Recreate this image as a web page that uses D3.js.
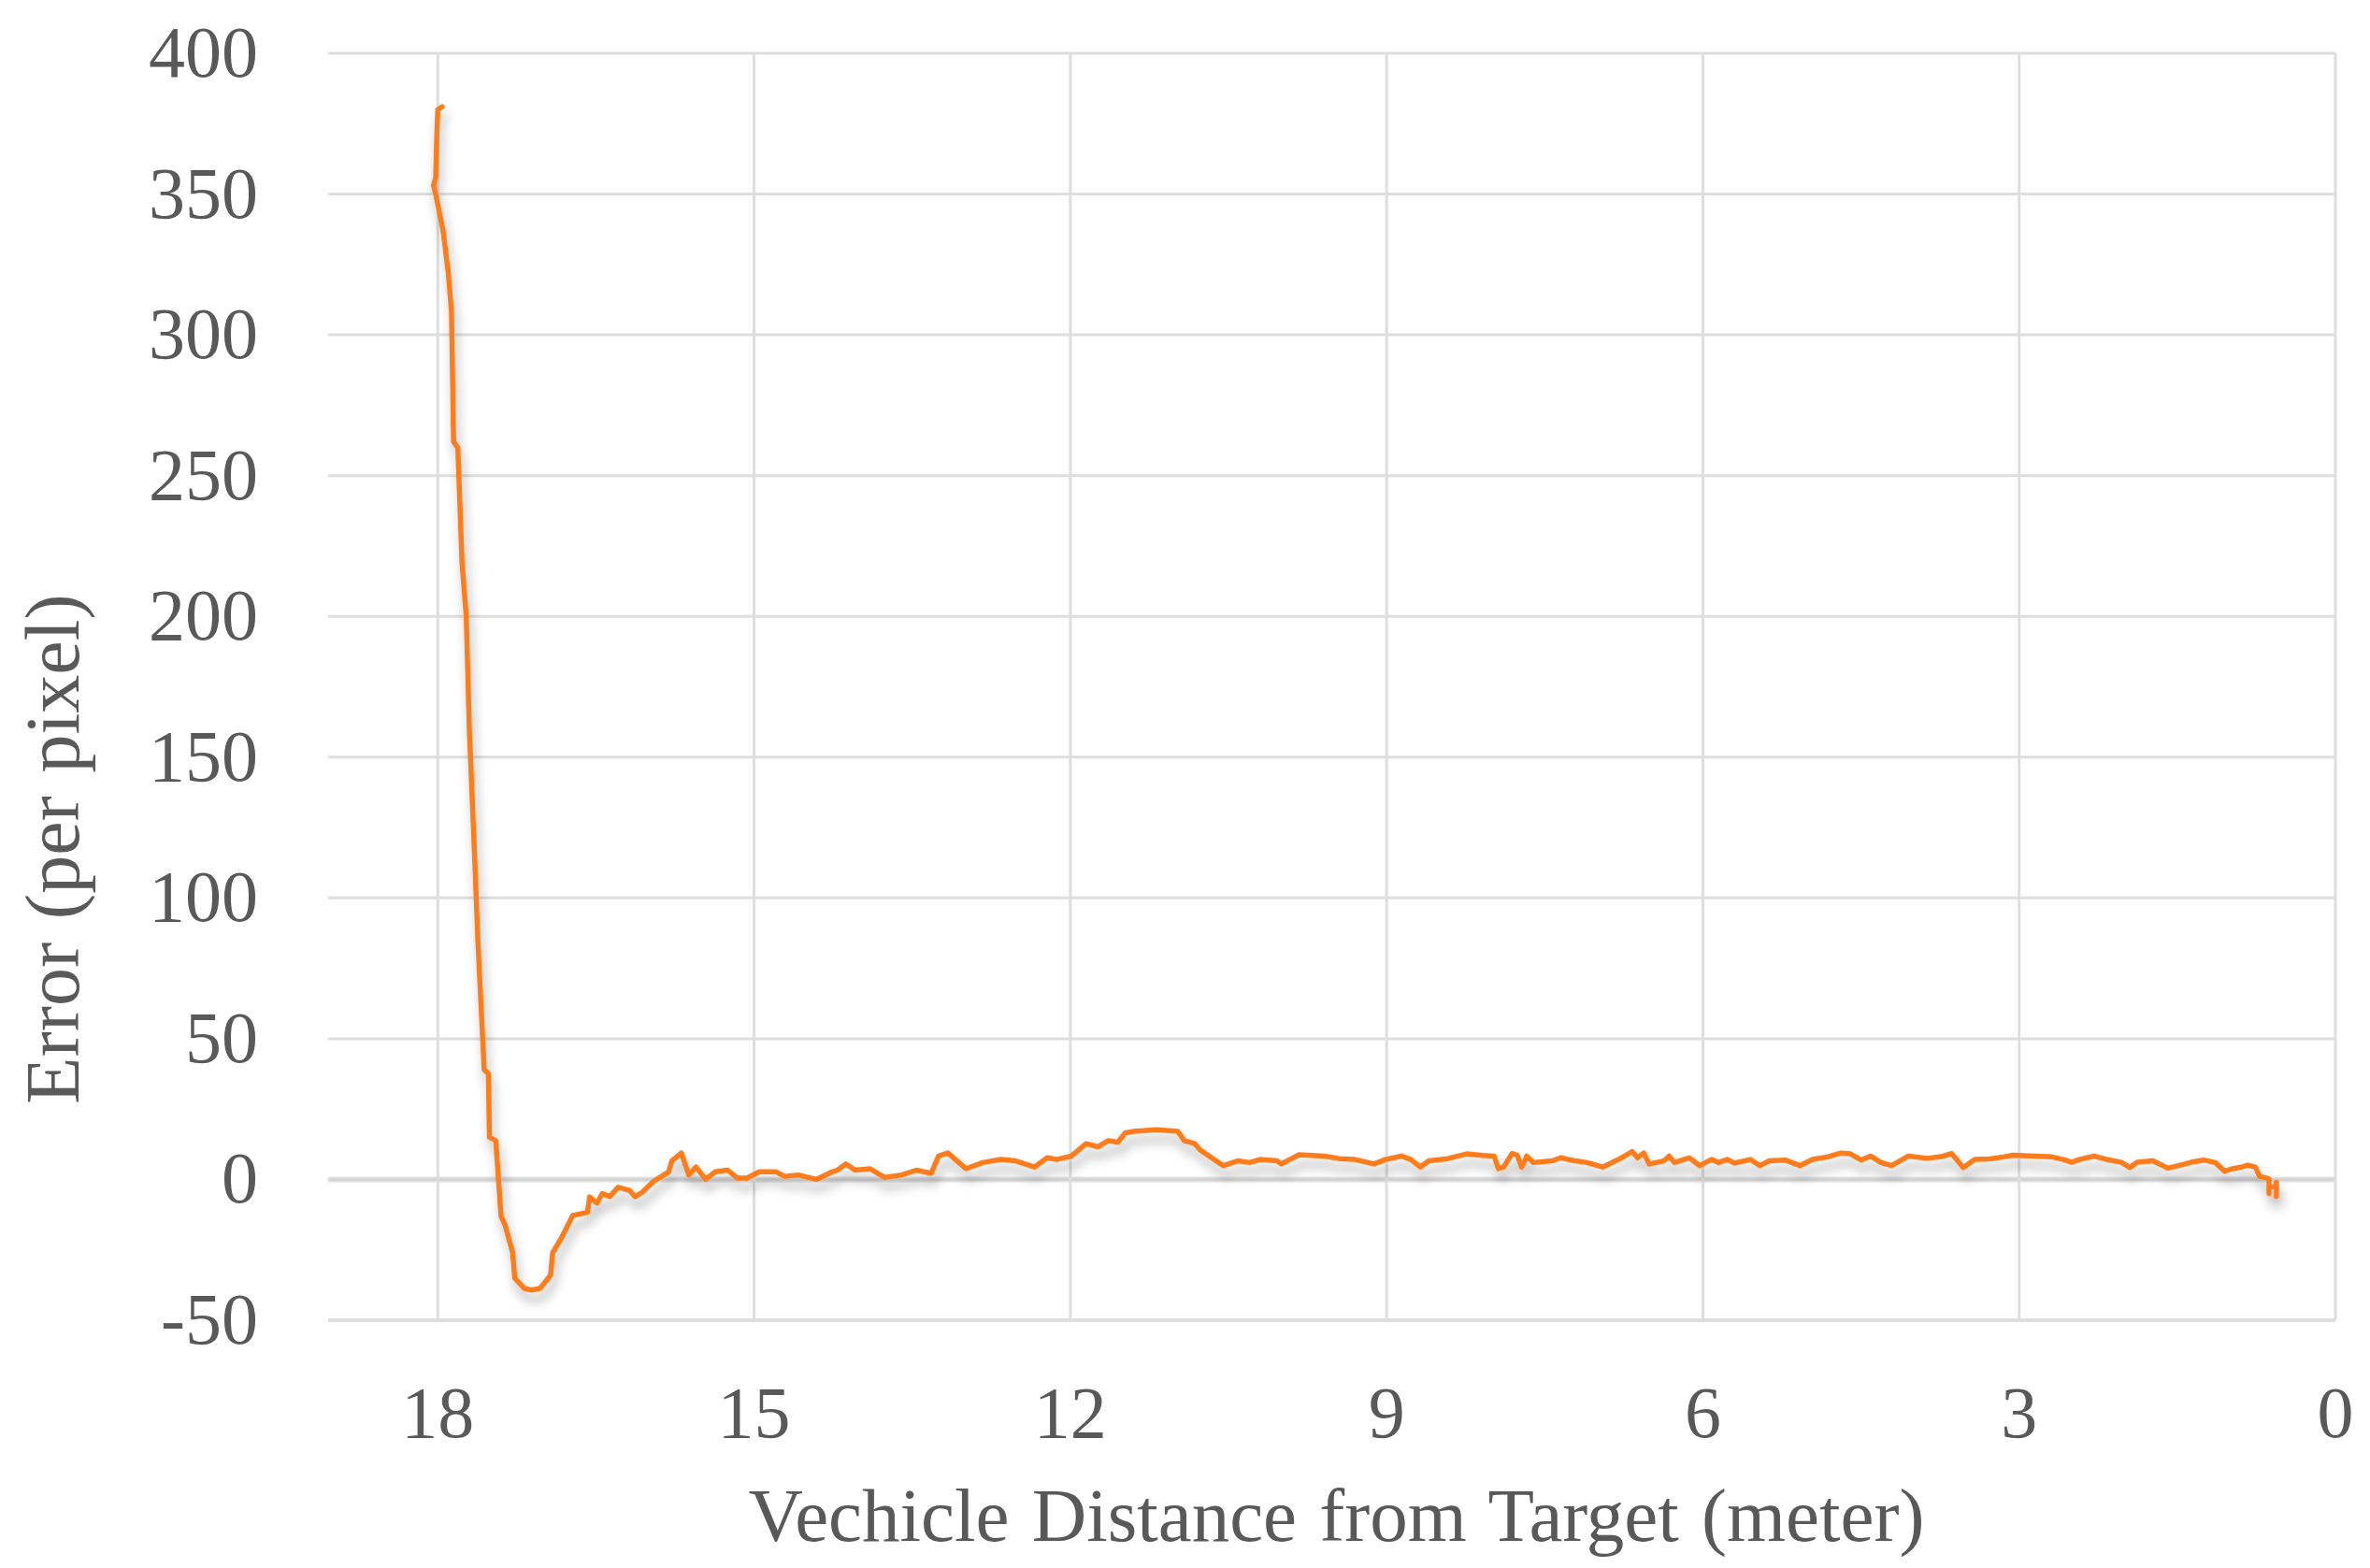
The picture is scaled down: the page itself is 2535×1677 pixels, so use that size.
<!DOCTYPE html>
<html>
<head>
<meta charset="utf-8">
<script src="https://cdn.jsdelivr.net/npm/d3@7/dist/d3.min.js"></script>
<style>
  html, body { margin: 0; padding: 0; background: #ffffff; }
  svg { display: block; }
</style>
</head>
<body>
<script>
// ---- Data ----
const distance = [
  17.96, 18.00, 18.01, 18.02, 18.04, 18.02, 17.95, 17.90, 17.87, 17.85, 17.81,
  17.77, 17.73, 17.70, 17.65, 17.62, 17.56, 17.52, 17.51, 17.45, 17.40, 17.36,
  17.29, 17.27, 17.18, 17.11, 17.03, 16.93, 16.91, 16.83, 16.72,
  16.58, 16.56, 16.49, 16.44, 16.37, 16.29, 16.18, 16.13, 16.06, 15.95, 15.81,
  15.78, 15.69, 15.62, 15.55, 15.46, 15.37, 15.25, 15.16, 15.07, 14.95, 14.79,
  14.71, 14.58, 14.41, 14.26, 14.21, 14.13, 14.04, 13.90, 13.76, 13.60, 13.46,
  13.32, 13.25, 13.16, 12.99, 12.83, 12.66, 12.52, 12.34, 12.22, 12.13, 11.99,
  11.85, 11.74, 11.64, 11.55, 11.48, 11.40, 11.18, 10.98, 10.92, 10.82, 10.77,
  10.66, 10.55, 10.41, 10.30, 10.20, 10.04, 10.00, 9.83, 9.59, 9.45, 9.30,
  9.12, 9.01, 8.86, 8.77, 8.68, 8.60, 8.42, 8.24, 8.09, 7.98, 7.94, 7.89,
  7.81, 7.76, 7.72, 7.67, 7.61, 7.43, 7.35, 7.21, 7.10, 6.95, 6.80, 6.67,
  6.62, 6.56, 6.51, 6.37, 6.32, 6.27, 6.13, 6.03, 5.92, 5.85, 5.77, 5.70,
  5.55, 5.46, 5.37, 5.22, 5.08, 4.96, 4.82, 4.69, 4.60, 4.50, 4.41, 4.31,
  4.21, 4.05, 3.87, 3.74, 3.64, 3.53, 3.42, 3.28, 3.15, 3.06, 2.69, 2.58,
  2.50, 2.43, 2.29, 2.17, 2.03, 1.95, 1.88, 1.73, 1.59, 1.47, 1.37, 1.25,
  1.14, 1.05, 0.98, 0.89, 0.83, 0.76, 0.72, 0.66, 0.63, 0.63, 0.63, 0.56,
  0.56, 0.56
];
const error = [
  381, 380, 370, 356, 353, 350, 337, 322, 308, 262, 260,
  219, 200, 159, 114, 85, 39, 37.6, 15, 13.8, -13, -16.4,
  -26, -35, -38.7, -39.3, -38.7, -34, -26, -21, -12.8,
  -11.7, -6.2, -8.4, -5.0, -6.1, -2.8, -3.9, -6.1, -4.5, -0.6, 2.7,
  6.6, 9.4, 1.6, 4.4, 0, 2.7, 3.3, 0.5, 0.5, 2.7, 2.7,
  1.1, 1.6, 0, 2.7, 3.3, 5.5, 3.3, 3.8, 0.7, 1.6, 3.3,
  2.2, 8.3, 9.4, 3.8, 6.0, 7.1, 6.6, 4.4, 7.7, 7.1, 8.3,
  12.7, 11.6, 13.8, 13.2, 16.5, 17.1, 17.7, 17.1, 13.8, 12.7, 10.5,
  7.7, 4.9, 6.6, 6.0, 7.1, 6.6, 5.5, 8.8, 8.3, 7.4, 7.1,
  5.5, 7.1, 8.3, 7.1, 4.4, 6.6, 7.4, 9.1, 8.5, 8.3, 3.8, 4.4,
  9.2, 8.6, 4.4, 8.3, 6.0, 6.6, 7.7, 6.6, 6.0, 4.4, 7.1, 9.9,
  7.7, 9.4, 5.5, 6.6, 8.3, 6.0, 7.7, 4.9, 7.1, 6.0, 7.1, 5.8,
  7.1, 4.9, 6.6, 6.9, 4.9, 7.1, 8.0, 9.4, 9.1, 6.9, 8.3, 6.0,
  4.9, 8.3, 7.5, 8.1, 9.2, 4.2, 7.1, 7.3, 8.0, 8.6, 8.0, 7.1,
  6.1, 7.1, 8.3, 7.1, 6.1, 4.2, 6.1, 6.6, 4.0, 5.1, 6.1, 6.9,
  6.0, 2.9, 3.8, 4.4, 5.1, 4.4, 1.1, 0.5, 0.2, -5.0, -2.6, -2.6,
  -1.0, -6.1
];
const xTicks = [18, 15, 12, 9, 6, 3, 0];
const yTicks = [-50, 0, 50, 100, 150, 200, 250, 300, 350, 400];
const xTitle = "Vechicle Distance from Target (meter)";
const yTitle = "Error (per pixel)";

// ---- Layout ----
const W = 2535, H = 1677;
const plot = { left: 351, right: 2498, top: 57, bottom: 1412 };

const x = d3.scaleLinear().domain([19.04, 0]).range([plot.left, plot.right]);
const y = d3.scaleLinear().domain([-50, 400]).range([plot.bottom, plot.top]);

const svg = d3.select("body").append("svg")
  .attr("width", W).attr("height", H)
  .attr("viewBox", `0 0 ${W} ${H}`);

svg.append("rect").attr("width", W).attr("height", H).attr("fill", "#ffffff");

const defs = svg.append("defs");
const f = defs.append("filter").attr("id", "shadow")
  .attr("filterUnits", "userSpaceOnUse")
  .attr("x", 0).attr("y", 0).attr("width", W).attr("height", H);
f.append("feDropShadow")
  .attr("dx", 3).attr("dy", 10).attr("stdDeviation", 6)
  .attr("flood-color", "#000").attr("flood-opacity", 0.3);

const fZero = defs.append("filter").attr("id", "zshadow")
  .attr("filterUnits", "userSpaceOnUse")
  .attr("x", 0).attr("y", 0).attr("width", W).attr("height", H);
fZero.append("feGaussianBlur").attr("stdDeviation", 1.2);

const font = "'Liberation Serif', 'Times New Roman', serif";
const textColor = "#595959";

// Horizontal gridlines
svg.append("g").selectAll("line").data(yTicks).join("line")
  .attr("x1", plot.left).attr("x2", plot.right)
  .attr("y1", d => y(d)).attr("y2", d => y(d))
  .attr("stroke", d => d === 0 ? "#d2d2d2" : "#dedede")
  .attr("stroke-width", d => d === 0 ? 5 : (d === -50 ? 4 : 3))
  .attr("filter", d => d === 0 ? "url(#zshadow)" : null);

// Vertical gridlines
svg.append("g").selectAll("line").data(xTicks).join("line")
  .attr("x1", d => x(d)).attr("x2", d => x(d))
  .attr("y1", plot.top).attr("y2", plot.bottom)
  .attr("stroke", "#dedede")
  .attr("stroke-width", 3);

// Y tick labels
svg.append("g").selectAll("text").data(yTicks).join("text")
  .attr("x", 276)
  .attr("y", d => y(d))
  .attr("dy", "0.32em")
  .attr("text-anchor", "end")
  .attr("font-family", font)
  .attr("font-size", 78)
  .attr("fill", textColor)
  .text(d => d);

// X tick labels
svg.append("g").selectAll("text").data(xTicks).join("text")
  .attr("x", d => x(d))
  .attr("y", plot.bottom + 125)
  .attr("text-anchor", "middle")
  .attr("font-family", font)
  .attr("font-size", 78)
  .attr("fill", textColor)
  .text(d => d);

// Axis titles
svg.append("text")
  .attr("x", (plot.left + plot.right) / 2 + 5)
  .attr("y", 1648)
  .attr("text-anchor", "middle")
  .attr("font-family", font)
  .attr("font-size", 81)
  .attr("word-spacing", 4)
  .attr("fill", textColor)
  .text(xTitle);

svg.append("text")
  .attr("transform", "translate(84,908) rotate(-90)")
  .attr("text-anchor", "middle")
  .attr("font-family", font)
  .attr("font-size", 82)
  .attr("word-spacing", 4)
  .attr("fill", textColor)
  .text(yTitle);

// Data line
const pts = distance.map((d, i) => [d, error[i]]);
const line = d3.line().x(d => x(d[0])).y(d => y(d[1]));
svg.append("path")
  .datum(pts)
  .attr("d", line)
  .attr("fill", "none")
  .attr("stroke", "#ff7b1c")
  .attr("stroke-width", 5.5)
  .attr("stroke-linejoin", "round")
  .attr("stroke-linecap", "round")
  .attr("filter", "url(#shadow)");
</script>
</body>
</html>
